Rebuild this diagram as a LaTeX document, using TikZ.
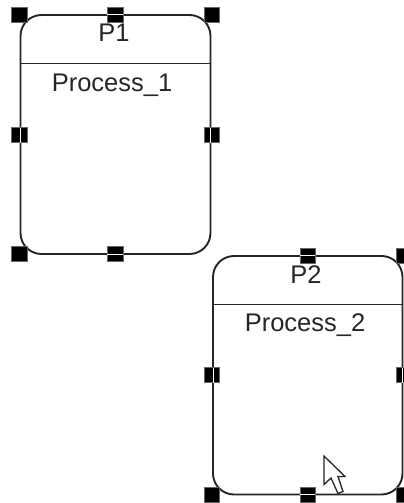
\documentclass[tikz,border=0pt]{standalone}
\usepackage{fontspec}
\setmainfont{Liberation Sans}
\tikzset{
  px/.style={x=1pt,y=-1pt},
  outline/.style={draw=black!85,line width=1.9pt,rounded corners=21pt},
  rule/.style={draw=black!85,line width=1.9pt},
  handle/.style={fill=black,draw=black!60,line width=0.5pt,minimum width=15.5pt,minimum height=15pt,inner sep=0pt,outer sep=0pt},
  handlesplit/.style={draw=white,line width=1pt},
  label/.style={inner sep=0pt,font=\fontsize{25.5}{25.5}\selectfont,text=black!85,anchor=base},
}
\begin{document}
\begin{tikzpicture}[px]
\useasboundingbox (0,0) rectangle (404,503);
\fill[white] (0,0) rectangle (404,503);
% Process 1
\draw[outline] (20.5,15) rectangle (210.5,254);
\draw[rule] (20.5,63.5) -- (210.5,63.5);
\node[label] (p1) at (114,42) {P1};
\node[label] (n1) at (112,91) {Process\_1};
\node[handle] (a1) at (19,15) {};
\node[handle] (a2) at (115,15) {};
\node[handle] (a3) at (211.5,15) {};
\node[handle] (a4) at (19,135) {};
\node[handle] (a5) at (211.5,135) {};
\node[handle] (a6) at (19,254) {};
\node[handle] (a7) at (115,254) {};
\draw[handlesplit] (a2.west) -- (a2.east);
\draw[handlesplit] (a7.west) -- (a7.east);
\draw[handlesplit] (20.5,127.5) -- (20.5,142.5);
\draw[handlesplit] (210.5,127.5) -- (210.5,142.5);
% Process 2
\draw[outline] (213,256) rectangle (402.5,494.5);
\draw[rule] (213,304.5) -- (402.5,304.5);
\node[label] (p2) at (306,283) {P2};
\node[label] (n2) at (305,331) {Process\_2};
\node[handle] (b2) at (307.5,255.5) {};
\node[handle] (b3) at (404,255.5) {};
\node[handle] (b4) at (211.5,375) {};
\node[handle] (b5) at (404,375) {};
\node[handle] (b6) at (211.5,494.5) {};
\node[handle] (b7) at (307.5,494.5) {};
\node[handle] (b8) at (404,494.5) {};
\draw[handlesplit] (b2.west) -- (b2.east);
\draw[handlesplit] (b7.west) -- (b7.east);
\draw[handlesplit] (213,367.5) -- (213,382.5);
\draw[handlesplit] (402.5,367.5) -- (402.5,382.5);
% Cursor
\draw[fill=white,draw=black!85,line width=1.3pt,line join=miter]
 (324,456) -- (324,484.5) -- (331,478) -- (338,493.5) -- (343,491.5) -- (338,476.5) -- (345,476.5) -- cycle;
\end{tikzpicture}
\end{document}
